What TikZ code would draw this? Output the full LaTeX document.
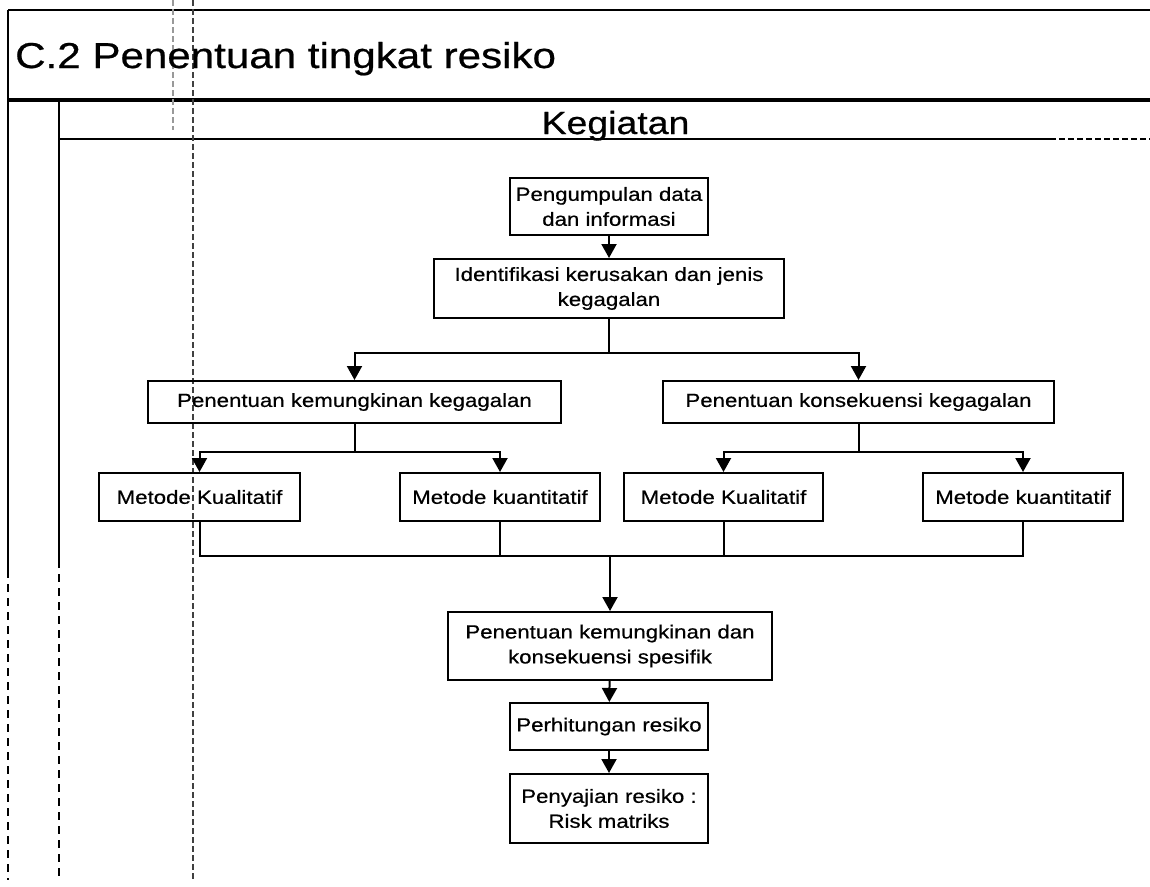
\documentclass[tikz,border=0pt]{standalone}
\usepackage{fontspec}
\setmainfont{Liberation Sans}[FakeStretch=1.17,FakeBold=0.6]
\usetikzlibrary{arrows.meta}
\begin{document}
\begin{tikzpicture}[x=1pt,y=-1pt,
  box/.style={draw,line width=2pt,inner sep=0pt,align=center,
    font=\fontsize{19}{25}\selectfont},
  link/.style={line width=2pt},
  arr/.style={line width=2pt,-{Triangle[width=15pt,length=14pt]}},
  frame/.style={line width=2pt},
  guide/.style={line width=1.2pt,dash pattern=on 6pt off 3pt,black!75}]
\useasboundingbox (0,0) rectangle (1150,886);

% page frame and swimlane header
\draw[frame] (8,10) -- (1150,10);
\draw[frame] (8,10) -- (8,570);
\draw[frame,dash pattern=on 8pt off 6pt] (8,570) -- (8,880);
\draw[line width=3.2pt] (8,100) -- (1150,100);
\draw[frame] (59,100) -- (59,560);
\draw[frame,dash pattern=on 8pt off 6pt] (59,560) -- (59,880);
\draw[frame] (59,139) -- (1050,139);
\draw[frame,dash pattern=on 6pt off 3pt] (1050,139) -- (1150,139);
\draw[guide] (193,0) -- (193,880);
\draw[guide,black!40] (173,0) -- (173,130);

\node[anchor=base west,inner sep=0pt,font=\fontsize{36}{40}\selectfont] (title) at (15,68) {C.2 Penentuan tingkat resiko};
\node[anchor=base,inner sep=0pt,font=\fontsize{32}{36}\selectfont] (lane) at (615.5,134) {Kegiatan};

% process boxes
\node[box,minimum width=198pt,minimum height=57pt] (b1) at (609,206.5) {Pengumpulan data\\dan informasi};
\node[box,minimum width=350pt,minimum height=59pt] (b2) at (609,288.5) {Identifikasi kerusakan dan jenis\\kegagalan};
\node[box,minimum width=413pt,minimum height=42pt] (b3) at (354.5,402) {Penentuan kemungkinan kegagalan};
\node[box,minimum width=391pt,minimum height=42pt] (b4) at (858.5,402) {Penentuan konsekuensi kegagalan};
\node[box,minimum width=201pt,minimum height=48pt] (b5) at (199.5,497) {Metode Kualitatif};
\node[box,minimum width=200pt,minimum height=48pt] (b6) at (500,497) {Metode kuantitatif};
\node[box,minimum width=199pt,minimum height=48pt] (b7) at (723.5,497) {Metode Kualitatif};
\node[box,minimum width=200pt,minimum height=48pt] (b8) at (1023,497) {Metode kuantitatif};
\node[box,minimum width=324pt,minimum height=68pt] (b9) at (610,646) {Penentuan kemungkinan dan\\konsekuensi spesifik};
\node[box,minimum width=198pt,minimum height=47pt] (b10) at (609,726.5) {Perhitungan resiko};
\node[box,minimum width=198pt,minimum height=69pt] (b11) at (609,808.5) {Penyajian resiko :\\Risk matriks};

% junction points
\coordinate (j1) at (609,353);
\coordinate (j2) at (354.5,452);
\coordinate (j3) at (858.5,452);
\coordinate (bus) at (610,556);

% connectors
\draw[arr] (b1) -- (b2);
\draw[link] (b2.south) -- (j1);
\draw[arr] (j1) -| (b3.north);
\draw[arr] (j1) -| (b4.north);
\draw[link] (b3.south) -- (j2);
\draw[arr] (j2) -| (b5.north);
\draw[arr] (j2) -| (b6.north);
\draw[link] (b4.south) -- (j3);
\draw[arr] (j3) -| (b7.north);
\draw[arr] (j3) -| (b8.north);
\draw[link] (b5.south) |- (bus) -| (b8.south);
\draw[link] (b6.south) -- (b6.south |- bus);
\draw[link] (b7.south) -- (b7.south |- bus);
\draw[arr] (bus) -- (b9.north);
\draw[arr] (b9) -- (b10);
\draw[arr] (b10) -- (b11);
\end{tikzpicture}
\end{document}
